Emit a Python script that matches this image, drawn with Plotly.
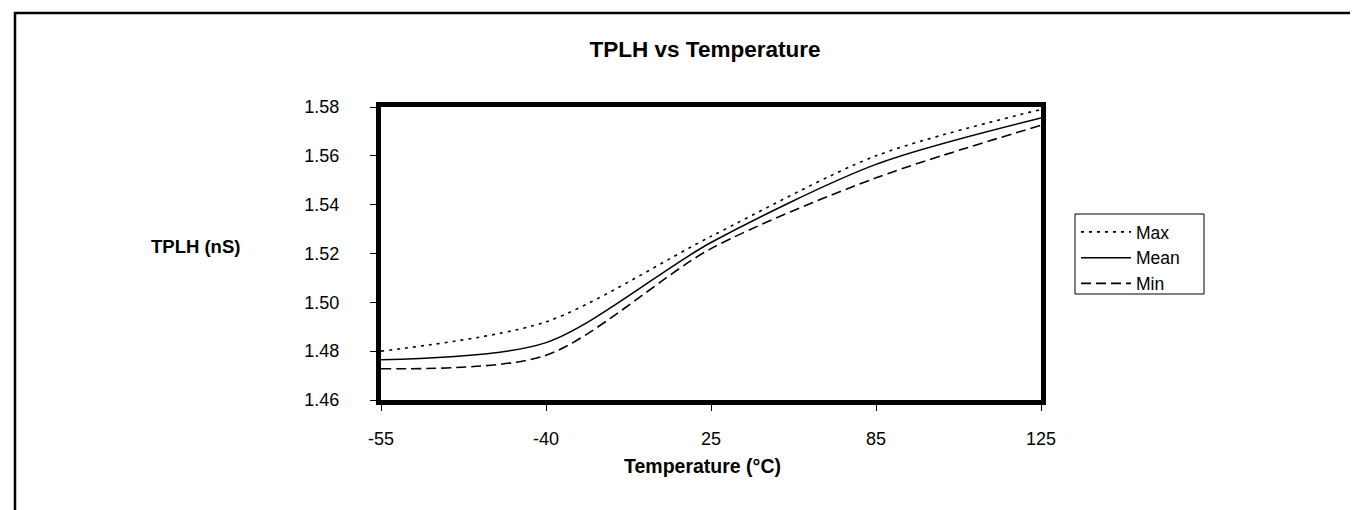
import plotly.graph_objects as go

temps = ["-55", "-40", "25", "85", "125"]
tplh_max = [1.480, 1.492, 1.527, 1.560, 1.579]
tplh_mean = [1.4765, 1.4835, 1.5245, 1.5565, 1.5755]
tplh_min = [1.4728, 1.4783, 1.5220, 1.5510, 1.5725]
y_ticks = [1.46, 1.48, 1.50, 1.52, 1.54, 1.56, 1.58]

FONT = "Liberation Sans, Arial, sans-serif"
W, H = 1358, 510
L, R, T, B = 373, 1033, 99, 392
pw, ph = R - L, B - T

def px_x(x):
    return (x - L) / pw

def px_y(y):
    return (B - y) / ph

fig = go.Figure()
fig.add_trace(go.Scatter(x=temps, y=tplh_max, name="Max", mode="lines",
                         line=dict(color="black", width=1.6, dash="3px,5px", shape="spline", smoothing=0.8)))
fig.add_trace(go.Scatter(x=temps, y=tplh_mean, name="Mean", mode="lines",
                         line=dict(color="black", width=1.5, shape="spline", smoothing=0.8)))
fig.add_trace(go.Scatter(x=temps, y=tplh_min, name="Min", mode="lines",
                         line=dict(color="black", width=1.6, dash="10px,5px", shape="spline", smoothing=0.8)))

fig.update_layout(
    width=W, height=H,
    margin=dict(l=L, r=W - R, t=T, b=H - B, pad=0),
    paper_bgcolor="white", plot_bgcolor="white",
    font=dict(family=FONT, color="black", size=17),
    title=dict(text="<b>TPLH vs Temperature</b>", x=px_x(697), xref="paper", xanchor="center",
               y=1 - 41 / H, yref="container", yanchor="middle",
               font=dict(family=FONT, size=22.5, color="black")),
    showlegend=True,
    legend=dict(x=px_x(1068), y=px_y(206), xanchor="left", yanchor="top",
                borderwidth=0, bgcolor="rgba(0,0,0,0)",
                font=dict(family=FONT, size=17.5, color="black"),
                itemwidth=50, tracegroupgap=0),
)

fig.update_xaxes(type="category", range=[0, 4], showgrid=False, zeroline=False,
                 showline=True, linecolor="black", linewidth=5, mirror=True,
                 ticks="outside", ticklen=6, tickwidth=1, tickcolor="black",
                 ticklabelstandoff=12,
                 tickfont=dict(family=FONT, size=18, color="black"))
fig.update_yaxes(range=[1.46, 1.58], tickvals=y_ticks, tickformat=".2f",
                 showgrid=False, zeroline=False,
                 showline=True, linecolor="black", linewidth=5, mirror=True,
                 ticks="outside", ticklen=6, tickwidth=1, tickcolor="black",
                 ticklabelstandoff=27,
                 tickfont=dict(family=FONT, size=18, color="black"))

fig.add_annotation(text="<b>TPLH (nS)</b>", x=px_x(187), y=px_y(238), xref="paper", yref="paper",
                   xanchor="center", yanchor="middle", showarrow=False,
                   font=dict(family=FONT, size=18.5, color="black"))
fig.add_annotation(text="<b>Temperature (°C)</b>", x=px_x(694), y=px_y(458), xref="paper", yref="paper",
                   xanchor="center", yanchor="middle", showarrow=False,
                   font=dict(family=FONT, size=19.5, color="black"))

# legend box
fig.add_shape(type="rect", xref="paper", yref="paper",
              x0=px_x(1067), x1=px_x(1196), y0=px_y(286), y1=px_y(206),
              line=dict(color="black", width=1), fillcolor="rgba(0,0,0,0)", layer="below")

# outer frame
fig.add_shape(type="rect", xref="paper", yref="paper",
              x0=px_x(7), x1=px_x(1356), y0=px_y(530), y1=px_y(5),
              line=dict(color="black", width=2.5), fillcolor="rgba(0,0,0,0)", layer="below")

fig.write_html("out.html")
